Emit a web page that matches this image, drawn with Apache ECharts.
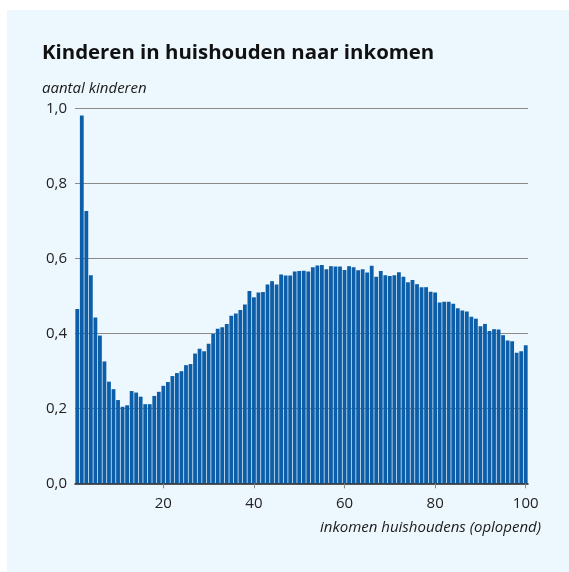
<!DOCTYPE html>
<html>
<head>
<meta charset="utf-8">
<script src="https://cdn.jsdelivr.net/npm/echarts@6/dist/echarts.min.js"></script>
<style>
html,body{margin:0;padding:0;background:#ffffff;}
#chart{width:569px;height:572px;}
</style>
</head>
<body>
<div id="chart"></div>
<script>
var titleText = 'Kinderen in huishouden naar inkomen';
var yAxisTitle = 'aantal kinderen';
var xAxisTitle = 'inkomen huishoudens (oplopend)';
var categories = [];
for (var i = 1; i <= 100; i++) categories.push(String(i));
var xTickLabels = ['20', '40', '60', '80', '100'];
var yTicks = [0, 0.2, 0.4, 0.6, 0.8, 1.0];
var values = [
  0.465, 0.981, 0.726, 0.555, 0.442, 0.394, 0.325, 0.271, 0.251, 0.222,
  0.204, 0.208, 0.246, 0.242, 0.231, 0.211, 0.211, 0.233, 0.244, 0.260,
  0.270, 0.286, 0.294, 0.299, 0.315, 0.318, 0.346, 0.359, 0.352, 0.372,
  0.398, 0.412, 0.416, 0.425, 0.447, 0.453, 0.462, 0.477, 0.513, 0.496,
  0.509, 0.510, 0.530, 0.539, 0.530, 0.557, 0.554, 0.554, 0.565, 0.566,
  0.567, 0.565, 0.576, 0.581, 0.582, 0.571, 0.579, 0.578, 0.578, 0.569,
  0.579, 0.576, 0.568, 0.571, 0.562, 0.580, 0.551, 0.566, 0.555, 0.553,
  0.555, 0.563, 0.551, 0.536, 0.542, 0.531, 0.523, 0.523, 0.511, 0.509,
  0.482, 0.484, 0.484, 0.479, 0.467, 0.461, 0.458, 0.444, 0.439, 0.419,
  0.425, 0.406, 0.411, 0.410, 0.395, 0.381, 0.379, 0.348, 0.352, 0.368
];

var chart = echarts.init(document.getElementById('chart'), null, {renderer: 'canvas'});
var fontFam = '"Open Sans", "Noto Sans", sans-serif';
var showLabel = function (idx, val) { return xTickLabels.indexOf(val) >= 0; };
chart.setOption({
  backgroundColor: '#ffffff',
  animation: false,
  graphic: [
    {type: 'rect', z: -10, shape: {x: 7, y: 10, width: 562, height: 562}, style: {fill: '#EDF7FE'}},
    {type: 'text', left: 42, top: 81, style: {text: yAxisTitle, font: 'italic 15px ' + fontFam, fill: '#1a1a1a'}},
    {type: 'text', right: 28, top: 520, style: {text: xAxisTitle, font: 'italic 15px ' + fontFam, fill: '#1a1a1a'}}
  ],
  title: {
    text: titleText,
    left: 42,
    top: 43,
    padding: 0,
    textStyle: {fontFamily: fontFam, fontWeight: 'bold', fontSize: 20.4, color: '#111111'}
  },
  grid: {left: 75, top: 108.3, width: 453, height: 375, containLabel: false},
  xAxis: {
    type: 'category',
    data: categories,
    boundaryGap: true,
    axisLine: {show: true, lineStyle: {color: '#222222', width: 1.5}},
    axisTick: {show: true, alignWithLabel: true, interval: showLabel, length: 5, lineStyle: {color: '#888888'}},
    axisLabel: {interval: showLabel, margin: 13, fontSize: 15, fontFamily: fontFam, color: '#222222'},
    splitLine: {show: false}
  },
  yAxis: {
    type: 'value',
    min: 0,
    max: 1,
    interval: 0.2,
    axisLine: {show: false},
    axisTick: {show: false},
    axisLabel: {
      margin: 8, fontSize: 15, fontFamily: fontFam, color: '#222222',
      formatter: function (v) { return v.toFixed(1).replace('.', ','); }
    },
    splitLine: {show: true, lineStyle: {color: '#8a8a8a', width: 1}}
  },
  series: [{
    type: 'bar',
    data: values,
    barCategoryGap: '16%',
    itemStyle: {color: '#0C5EA8'},
    emphasis: {disabled: true}
  }]
});
</script>
</body>
</html>
